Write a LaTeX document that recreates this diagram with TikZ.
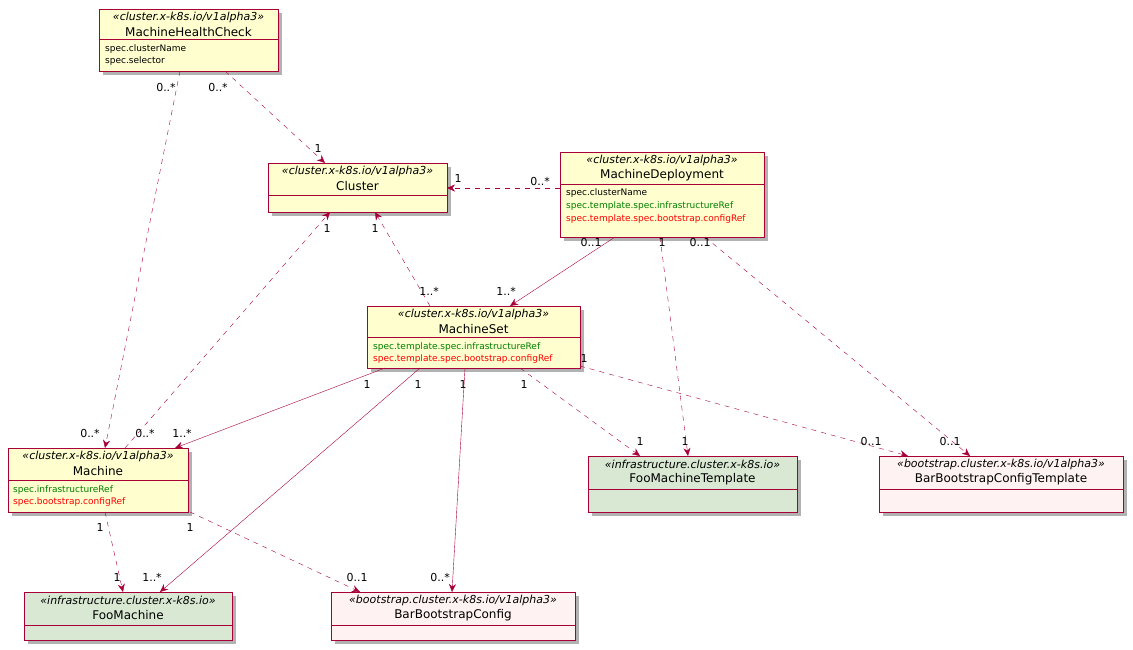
\documentclass[tikz,border=0pt]{standalone}
\usepackage{fontspec}
\setmainfont{DejaVu Sans}
\usetikzlibrary{arrows.meta}
\definecolor{umlred}{HTML}{A80036}
\definecolor{umlyellow}{HTML}{FEFECE}
\definecolor{umlgreen}{HTML}{D8E8D3}
\definecolor{umlpink}{HTML}{FFF2F2}
\definecolor{fgreen}{HTML}{008000}
% class box: name, x1, y1, x2, y2, divider y, fill, stereotype, title
\newcommand{\umlbox}[9]{%
  \fill[black!30] (#2+4,#3+4) rectangle (#4+4,#5+4);
  \node[box, fill=#7, minimum width=#4-#2, minimum height=#5-#3] (#1) at ({(#2+#4)/2},{(#3+#5)/2}) {};
  \draw[umlred, semithick] (#2,#6) -- (#4,#6);
  \node[stereo] (#1-st) at ({(#2+#4)/2},#3+8) {\guillemotleft#8\guillemotright};
  \node[title] (#1-nm) at ({(#2+#4)/2},#3+23) {#9};
}
\begin{document}
\begin{tikzpicture}[x=1pt, y=-1pt,
    box/.style = {draw = umlred, semithick, rectangle, inner sep = 0pt},
    stereo/.style = {font = \fontsize{11}{12}\selectfont\itshape, inner sep = 0pt},
    title/.style = {font = \fontsize{12}{13}\selectfont, inner sep = 0pt},
    field/.style = {font = \fontsize{9}{11}\selectfont, inner sep = 0pt, anchor = west},
    mult/.style = {font = \fontsize{11}{12}\selectfont, inner sep = 0pt},
    assoc/.style = {umlred, -{Stealth[length=8pt, width=7pt]}},
    dep/.style = {assoc, dash pattern = on 5pt off 5pt}
  ]
  \useasboundingbox (0,0) rectangle (1133,649);

  % classes
  \umlbox{mhc}{99}{9}{278}{71}{39}{umlyellow}{cluster.x-k8s.io/v1alpha3}{MachineHealthCheck}
  \node[field] (mhc-f1) at (105,49) {spec.clusterName};
  \node[field] (mhc-f2) at (105,61) {spec.selector};

  \umlbox{cl}{268}{163}{447}{212}{195}{umlyellow}{cluster.x-k8s.io/v1alpha3}{Cluster}

  \umlbox{md}{560}{152}{764}{237}{184}{umlyellow}{cluster.x-k8s.io/v1alpha3}{MachineDeployment}
  \node[field] (md-f1) at (566,193) {spec.clusterName};
  \node[field, text = fgreen] (md-f2) at (566,206) {spec.template.spec.infrastructureRef};
  \node[field, text = red] (md-f3) at (566,219) {spec.template.spec.bootstrap.configRef};

  \umlbox{ms}{367}{306}{580}{368}{337}{umlyellow}{cluster.x-k8s.io/v1alpha3}{MachineSet}
  \node[field, text = fgreen] (ms-f1) at (373,347) {spec.template.spec.infrastructureRef};
  \node[field, text = red] (ms-f2) at (373,359) {spec.template.spec.bootstrap.configRef};

  \umlbox{m}{8}{448}{188}{512}{480}{umlyellow}{cluster.x-k8s.io/v1alpha3}{Machine}
  \node[field, text = fgreen] (m-f1) at (13,490) {spec.infrastructureRef};
  \node[field, text = red] (m-f2) at (13,502) {spec.bootstrap.configRef};

  \umlbox{fmt}{588}{456}{797}{512}{489}{umlgreen}{infrastructure.cluster.x-k8s.io}{FooMachineTemplate}
  \umlbox{bbct}{879}{456}{1123}{512}{489}{umlpink}{bootstrap.cluster.x-k8s.io/v1alpha3}{BarBootstrapConfigTemplate}
  \umlbox{fm}{24}{592}{232}{640}{625}{umlgreen}{infrastructure.cluster.x-k8s.io}{FooMachine}
  \umlbox{bbc}{331}{592}{575}{640}{625}{umlpink}{bootstrap.cluster.x-k8s.io/v1alpha3}{BarBootstrapConfig}

  % connector ends
  \coordinate (mhc-a) at (180,71); \coordinate (mhc-b) at (225,71);
  \coordinate (cl-t) at (325,163); \coordinate (cl-r) at (447,188);
  \coordinate (cl-b1) at (330,212); \coordinate (cl-b2) at (375,212);
  \coordinate (md-l) at (560,188); \coordinate (md-b1) at (615,237);
  \coordinate (md-b2) at (660,237); \coordinate (md-b3) at (705,237);
  \coordinate (ms-t1) at (430,306); \coordinate (ms-t2) at (510,306);
  \coordinate (ms-b1) at (385,368); \coordinate (ms-b2) at (420,368);
  \coordinate (ms-b3) at (465,368); \coordinate (ms-b4) at (520,368);
  \coordinate (ms-r) at (580,366);
  \coordinate (m-t1) at (105,448); \coordinate (m-t2) at (125,448);
  \coordinate (m-t3) at (175,448);
  \coordinate (m-b1) at (105,512); \coordinate (m-b2) at (190,512);
  \coordinate (fmt-t1) at (640,456); \coordinate (fmt-t2) at (688,456);
  \coordinate (bbct-t1) at (908,456); \coordinate (bbct-t2) at (970,456);
  \coordinate (fm-t1) at (123,592); \coordinate (fm-t2) at (160,592);
  \coordinate (bbc-t1) at (360,592); \coordinate (bbc-t2) at (452,592);

  % connectors
  \draw[dep] (mhc-a) -- (m-t1);
  \draw[dep] (mhc-b) -- (cl-t);
  \draw[dep] (md-l) -- (cl-r);
  \draw[assoc] (md-b1) -- (ms-t2);
  \draw[dep] (md-b2) -- (fmt-t2);
  \draw[dep] (md-b3) -- (bbct-t2);
  \draw[dep] (ms-t1) -- (cl-b2);
  \draw[dep] (m-t2) -- (cl-b1);
  \draw[assoc] (ms-b1) -- (m-t3);
  \draw[assoc] (ms-b2) -- (fm-t2);
  \draw[assoc] (ms-b3) -- (bbc-t2);
  \draw[dep] (ms-b4) -- (fmt-t1);
  \draw[dep] (ms-r) -- (bbct-t1);
  \draw[dep] (m-b1) -- (fm-t1);
  \draw[dep] (m-b2) -- (bbc-t1);

  % multiplicities
  \node[mult] (l1) at (166,87) {0..*};   \node[mult] (l2) at (90,433) {0..*};
  \node[mult] (l3) at (218,87) {0..*};   \node[mult] (l4) at (318,148) {1};
  \node[mult] (l5) at (540,181) {0..*};  \node[mult] (l6) at (458,178) {1};
  \node[mult] (l7) at (591,242) {0..1};  \node[mult] (l8) at (506,291) {1..*};
  \node[mult] (l9) at (662,242) {1};     \node[mult] (l10) at (685,441) {1};
  \node[mult] (l11) at (700,242) {0..1}; \node[mult] (l12) at (950,441) {0..1};
  \node[mult] (l13) at (429,291) {1..*}; \node[mult] (l14) at (375,228) {1};
  \node[mult] (l15) at (145,433) {0..*}; \node[mult] (l16) at (327,228) {1};
  \node[mult] (l17) at (367,384) {1};    \node[mult] (l18) at (182,433) {1..*};
  \node[mult] (l19) at (418,384) {1};    \node[mult] (l20) at (152,577) {1..*};
  \node[mult] (l21) at (463,384) {1};    \node[mult] (l22) at (440,577) {0..*};
  \node[mult] (l23) at (524,384) {1};    \node[mult] (l24) at (640,441) {1};
  \node[mult] (l25) at (584,358) {1};    \node[mult] (l26) at (871,441) {0..1};
  \node[mult] (l27) at (100,527) {1};    \node[mult] (l28) at (117,577) {1};
  \node[mult] (l29) at (190,527) {1};    \node[mult] (l30) at (357,577) {0..1};
\end{tikzpicture}
\end{document}
